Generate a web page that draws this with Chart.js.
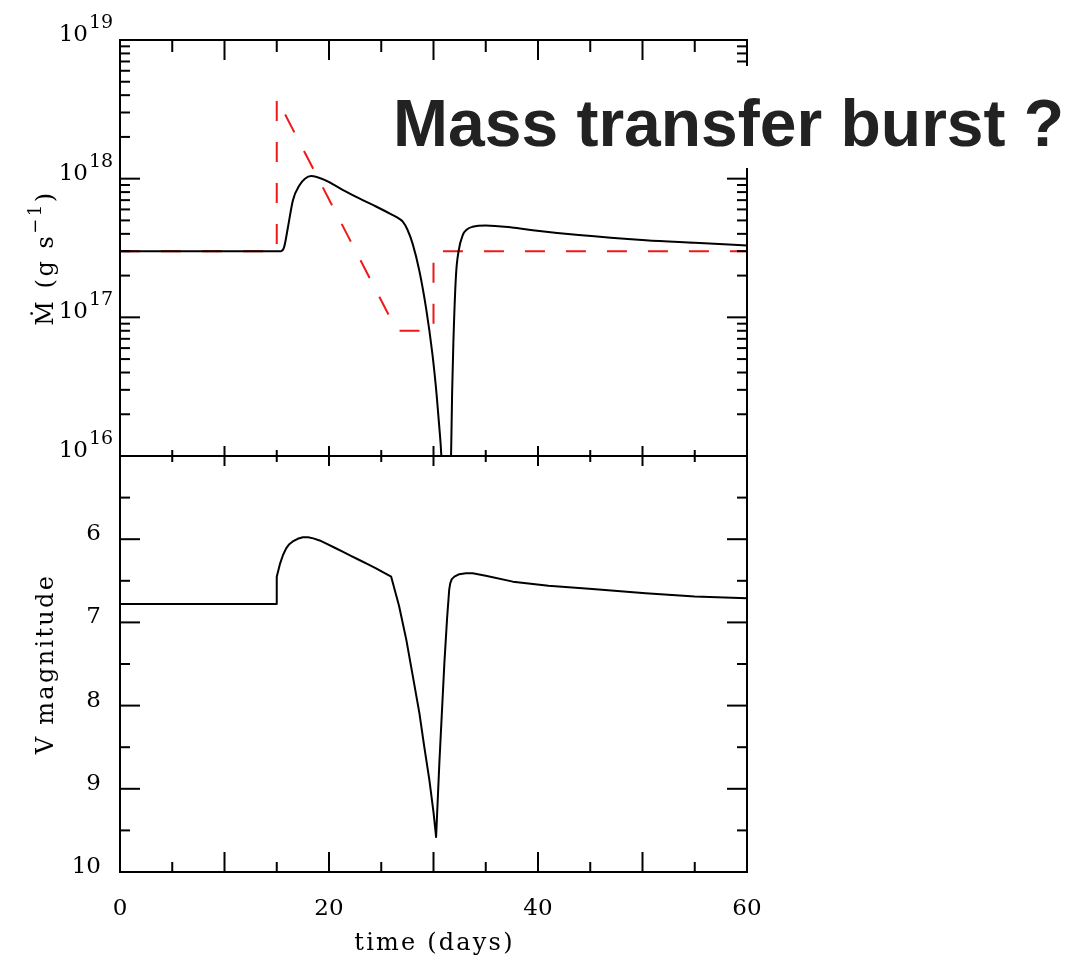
<!DOCTYPE html>
<html>
<head>
<meta charset="utf-8">
<script src="https://cdn.jsdelivr.net/npm/chart.js@4.4.0/dist/chart.umd.min.js"></script>
<style>
    html, body { margin: 0; padding: 0; background: #fff; }
    #wrap { position: relative; width: 1092px; height: 962px; }
    #note {
        position: absolute; left: 388px; top: 66px; width: 690px; height: 102px;
        box-sizing: border-box; padding-left: 5px; background: #fff; color: #222;
        font: bold 66px "Liberation Sans", Arial, sans-serif; line-height: 102px; white-space: nowrap;
    }
    #note span { position: relative; top: 6px; }
</style>
</head>
<body>
<div id="wrap">
    <canvas id="c" width="1092" height="962"></canvas>
    <div id="note"><span>Mass transfer burst ?</span></div>
</div>
<script>
    // accretion rate of the disc (black), g/s
    var tMdot = [0, 15.4, 15.7, 16.08, 16.55, 17.19, 17.7, 18.3, 19.74, 21.3, 22.9, 24.5, 26.1, 26.7, 27.06,
        27.5, 28.0, 28.65, 29.3, 29.9, 30.3, 30.56, 30.75, 31.2, 31.68, 31.78, 31.9, 32.15, 32.4, 32.8, 33.2,
        33.75, 35.0, 37.5, 39.5, 43.9, 50.3, 55, 60];
    var mdot = [3e17, 3e17, 3.2e17, 4.5e17, 7.0e17, 9.0e17, 1.0e18, 1.045e18, 9.66e17, 8.3e17, 7.2e17, 6.3e17,
        5.46e17, 5.15e17, 4.9e17, 4.3e17, 3.4e17, 2.16e17, 1.15e17, 5.4e16, 2.76e16, 1.6e16, 1e16, 1e15, 1e16,
        2.8e16, 6.5e16, 2.0e17, 3.0e17, 3.92e17, 4.3e17, 4.5e17, 4.6e17, 4.45e17, 4.25e17, 3.92e17, 3.6e17,
        3.45e17, 3.3e17];

    // mass transfer rate from the secondary (red dashed)
    var tFeed = [0, 15, 15, 26.5, 30, 30, 60];
    var feed = [3e17, 3e17, 3.8e18, 8e16, 8e16, 3e17, 3e17];

    // V magnitude
    var tVmag = [0, 14.95, 15.0, 15.3, 15.6, 15.9, 16.2, 16.5, 17.0, 17.5, 18.0, 18.5, 19.1, 19.7, 20.5,
        21.3, 22.1, 22.9, 23.7, 24.5, 25.2, 25.95, 26.7, 27.4, 28.0, 28.65, 29.1, 29.6, 30.0, 30.25, 30.56,
        31.04, 31.3, 31.5, 31.6, 31.75, 32.0, 32.47, 33.1, 33.75, 35.0, 37.6, 41.0, 45.2, 50.3, 55, 60];
    var vmag = [6.78, 6.78, 6.45, 6.30, 6.19, 6.11, 6.06, 6.03, 5.995, 5.977, 5.977, 5.99, 6.015, 6.05, 6.10,
        6.15, 6.20, 6.25, 6.30, 6.35, 6.40, 6.45, 6.80, 7.21, 7.63, 8.09, 8.48, 8.89, 9.28, 9.58, 8.69,
        7.49, 6.95, 6.61, 6.53, 6.48, 6.45, 6.42, 6.41, 6.41, 6.44, 6.51, 6.56, 6.60, 6.65, 6.69, 6.71];

    var xMajor = [10, 20, 30, 40, 50];
    var xMinor = [5, 15, 25, 35, 45, 55];
    var logExps = [16, 17, 18, 19];
    var logMinor = [2, 3, 4, 5, 6, 7, 8, 9];
    var magMajor = [6, 7, 8, 9];
    var magMinor = [5.5, 6.5, 7.5, 8.5, 9.5];

    function pts(xs, ys) {
        return xs.map(function (x, i) { return { x: x, y: ys[i] }; });
    }

    var serif = '"DejaVu Serif", "Liberation Serif", serif';

    // frames, inward ticks, log labels and axis titles
    var axesFrame = {
        id: 'axesFrame',
        afterDraw: function (chart) {
            var c = chart.ctx;
            var x = chart.scales.x, yM = chart.scales.yM, yV = chart.scales.yV;

            function vtick(px, y0, len) { c.beginPath(); c.moveTo(px, y0); c.lineTo(px, y0 + len); c.stroke(); }
            function htick(py, x0, len) { c.beginPath(); c.moveTo(x0, py); c.lineTo(x0 + len, py); c.stroke(); }

            c.save();
            c.strokeStyle = '#000';
            c.lineWidth = 2;
            [yM, yV].forEach(function (ys) {
                c.strokeRect(x.left, ys.top, x.right - x.left, ys.bottom - ys.top);
            });

            xMajor.forEach(function (v) {
                var px = x.getPixelForValue(v);
                vtick(px, yM.top, 20);
                vtick(px, yM.bottom, -10);
                vtick(px, yV.top, 10);
                vtick(px, yV.bottom, -20);
            });
            xMinor.forEach(function (v) {
                var px = x.getPixelForValue(v);
                vtick(px, yM.top, 12);
                vtick(px, yM.bottom, -6);
                vtick(px, yV.top, 6);
                vtick(px, yV.bottom, -10);
            });

            logExps.forEach(function (e) {
                if (e > 16 && e < 19) {
                    var py = yM.getPixelForValue(Math.pow(10, e));
                    htick(py, x.left, 20);
                    htick(py, x.right, -20);
                }
                if (e < 19) {
                    logMinor.forEach(function (m) {
                        var py = yM.getPixelForValue(m * Math.pow(10, e));
                        htick(py, x.left, 10);
                        htick(py, x.right, -10);
                    });
                }
            });
            magMajor.forEach(function (v) {
                var py = yV.getPixelForValue(v);
                htick(py, x.left, 20);
                htick(py, x.right, -20);
            });
            magMinor.forEach(function (v) {
                var py = yV.getPixelForValue(v);
                htick(py, x.left, 10);
                htick(py, x.right, -10);
            });

            // 10^n labels
            c.fillStyle = '#000';
            c.textBaseline = 'alphabetic';
            logExps.forEach(function (e) {
                var py = yM.getPixelForValue(Math.pow(10, e));
                c.font = '23px ' + serif;
                c.textAlign = 'right';
                c.fillText('10', 88, py + 1);
                c.font = '19px ' + serif;
                c.textAlign = 'left';
                c.fillText(String(e), 89, py - 12);
            });

            // axis titles
            c.letterSpacing = '2.2px';
            c.font = '24px ' + serif;
            c.textAlign = 'center';
            c.fillText('time (days)', (x.left + x.right) / 2 + 1, 950);

            c.save();
            c.translate(53, (yV.top + yV.bottom) / 2);
            c.rotate(-Math.PI / 2);
            c.letterSpacing = '2.3px';
            c.fillText('V magnitude', 0, 0);
            c.restore();

            c.save();
            c.translate(53, 258);
            c.rotate(-Math.PI / 2);
            c.textAlign = 'left';
            c.letterSpacing = '2.5px';
            c.font = '24px ' + serif;
            var a = 'Ṁ (g s', b = '−1', d = ')';
            var wa = c.measureText(a).width;
            var wd = c.measureText(d).width;
            c.font = '18px ' + serif;
            var wb = c.measureText(b).width;
            var x0 = -(wa + wb + wd) / 2;
            c.font = '24px ' + serif;
            c.fillText(a, x0, 0);
            c.font = '18px ' + serif;
            c.fillText(b, x0 + wa, -12);
            c.font = '24px ' + serif;
            c.fillText(d, x0 + wa + wb, 0);
            c.restore();

            c.restore();
        }
    };

    var chart = new Chart(document.getElementById('c'), {
        type: 'line',
        data: {
            datasets: [{
                label: 'disc',
                data: pts(tMdot, mdot),
                xAxisID: 'x',
                yAxisID: 'yM',
                borderColor: '#000',
                borderWidth: 2,
                pointRadius: 0,
                cubicInterpolationMode: 'monotone'
            }, {
                label: 'transfer',
                data: pts(tFeed, feed),
                xAxisID: 'x',
                yAxisID: 'yM',
                borderColor: '#f01818',
                borderWidth: 2,
                borderDash: [20, 21],
                pointRadius: 0,
                tension: 0
            }, {
                label: 'V',
                data: pts(tVmag, vmag),
                xAxisID: 'x',
                yAxisID: 'yV',
                borderColor: '#000',
                borderWidth: 2,
                borderJoinStyle: 'round',
                pointRadius: 0,
                tension: 0
            }]
        },
        options: {
            responsive: false,
            animation: false,
            layout: { padding: { top: 40, right: 345, left: 0, bottom: 0 } },
            plugins: { legend: { display: false }, tooltip: { enabled: false } },
            scales: {
                x: {
                    type: 'linear', min: 0, max: 60, position: 'bottom',
                    grid: { display: false }, border: { display: false },
                    ticks: { stepSize: 20, maxRotation: 0, color: '#000', padding: 15, font: { family: serif, size: 23 } },
                    afterFit: function (s) { s.height = 90; }
                },
                yV: {
                    type: 'linear', min: 5, max: 10, reverse: true, position: 'left',
                    stack: 'panels', stackWeight: 1, weight: 0,
                    grid: { display: false }, border: { display: false },
                    ticks: {
                        stepSize: 1, color: '#000', padding: 11, labelOffset: -5,
                        font: { family: serif, size: 23 },
                        callback: function (v) { return v === 5 ? '' : v; }
                    },
                    afterFit: function (s) { s.width = 120; }
                },
                yM: {
                    type: 'logarithmic', min: 1e16, max: 1e19, position: 'left',
                    stack: 'panels', stackWeight: 1, weight: 1,
                    grid: { display: false }, border: { display: false },
                    ticks: { display: false },
                    afterFit: function (s) { s.width = 120; }
                }
            }
        },
        plugins: [axesFrame]
    });
</script>
</body>
</html>
